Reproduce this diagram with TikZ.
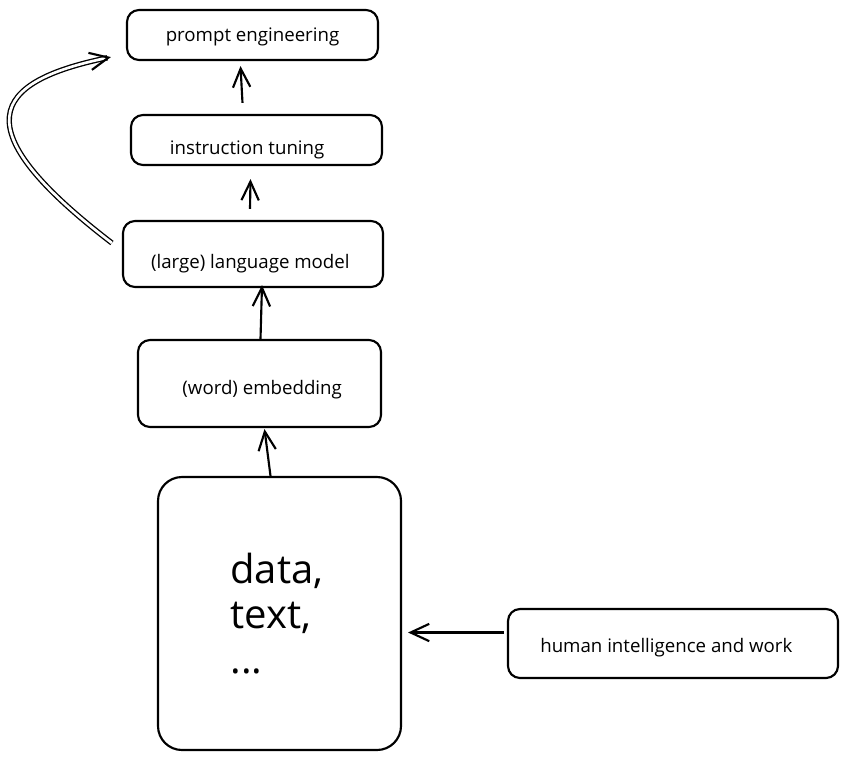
\documentclass[tikz,border=0pt]{standalone}
\usepackage{fontspec}
\setmainfont{Open Sans}
\usepackage{tikz}
\usetikzlibrary{positioning,arrows.meta}
\newcommand\boxtext[3]{\makebox[0pt]{\hspace*{#1}\raisebox{#2}[0pt][0pt]{#3}\hspace*{-#1}}}
\tikzset{
  box/.style={draw, line width=1.6pt, rounded corners=9pt, font=\fontsize{14}{17}\selectfont},
  flow/.style={line width=1.6pt, -{Straight Barb[length=14pt,width=13pt,line width=1.6pt]}}
}
\begin{document}
\begin{tikzpicture}[x={(0.75pt,0pt)},y={(0pt,-0.75pt)}]
						\useasboundingbox (0,0) rectangle (848,761);
						\node[box, minimum width=188.25pt, minimum height=37.5pt] (pe) at (252.5,35) {\boxtext{0pt}{-5pt}{prompt engineering}};
						\node[box, minimum width=188.25pt, minimum height=37.5pt] (it) at (256.5,140) {\boxtext{-7pt}{-11pt}{instruction tuning}};
						\node[box, minimum width=195pt, minimum height=49.5pt] (llm) at (253,254) {\boxtext{-2pt}{-10.5pt}{(large) language model}};
						\node[box, minimum width=182.25pt, minimum height=65.25pt] (emb) at (259.5,383.5) {\boxtext{2pt}{-8pt}{(word) embedding}};
						\node[box, rounded corners=18pt, minimum width=182.25pt, minimum height=204.75pt, align=left, font=\fontsize{30}{34}\selectfont] (data) at (279.5,613.5) {\hspace*{-4pt}data,\\\hspace*{-4pt}text,\\\hspace*{-4pt}...};
						\node[box, minimum width=247.5pt, minimum height=51.75pt] (hw) at (673,643.5) {\boxtext{-5pt}{-7pt}{human intelligence and work}};
						
						\draw[flow] ([shift={(-14,-11)}]it.north) -- ([shift={(-12,5)}]pe.south);
						\draw[flow] ([shift={(-3,-11)}]llm.north) -- ([shift={(-6,13)}]it.south);
						\draw[flow] ([shift={(1,0)}]emb.north) -- ([shift={(9,-3)}]llm.south);
						\draw[flow] ([shift={(-9,0)}]data.north) -- ([shift={(5,1)}]emb.south);
						\draw[flow] ([shift={(-3,-11)}]hw.west) -- ([shift={(6,19)}]data.east);
						%\draw[flow] (llm.west) -- (pe.west);
						\draw[flow, double, double distance=2pt, line width=1pt] ([shift={(-10,-11)}]llm.west) .. controls (-38,128) and (-10,82) .. ([shift={(-15,-4)}]pe.south west);
					\end{tikzpicture}
\end{document}
